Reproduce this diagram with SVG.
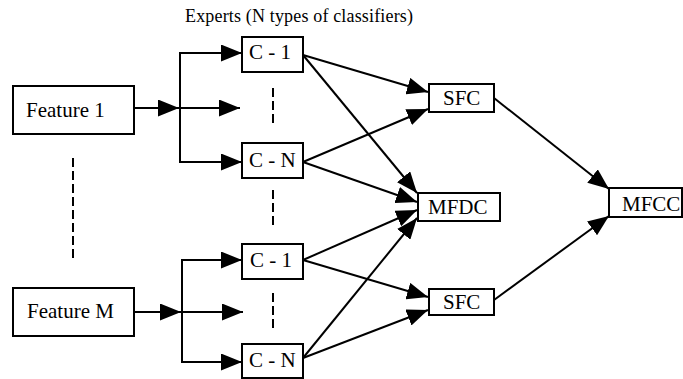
<svg xmlns="http://www.w3.org/2000/svg" width="683" height="379" viewBox="0 0 683 379">
<style>
  .box { fill: #fff; stroke: #000; stroke-width: 2; }
  .lbl { font-family: "Liberation Serif", "Times New Roman", serif; font-size: 21px; fill: #000; }
  .title { font-family: "Liberation Serif", "Times New Roman", serif; font-size: 18px; fill: #000; }
  .edge { stroke: #000; stroke-width: 2; fill: none; }
  .arr { marker-end: url(#ah); }
  .dash { stroke: #000; stroke-width: 2; stroke-dasharray: 9 4; fill: none; }
</style>
<defs>
  <marker id="ah" markerUnits="userSpaceOnUse" markerWidth="21" markerHeight="17" viewBox="0 0 21 17" refX="21" refY="8.5" orient="auto">
    <path d="M0,0 L21,8.5 L0,17 z" fill="#000"/>
  </marker>
</defs>
<rect width="683" height="379" fill="#fff"/>
<text class="title" x="185" y="22" textLength="228">Experts (N types of classifiers)</text>

<g id="connectors">
  <line class="edge arr" x1="134" y1="108" x2="179" y2="108"/>
  <line class="edge" x1="180" y1="53" x2="180" y2="163"/>
  <line class="edge arr" x1="179" y1="53" x2="242" y2="53"/>
  <line class="edge arr" x1="180" y1="108" x2="240" y2="108"/>
  <line class="edge arr" x1="179" y1="162" x2="242" y2="162"/>

  <line class="edge arr" x1="134" y1="312" x2="181" y2="312"/>
  <line class="edge" x1="182" y1="259" x2="182" y2="363"/>
  <line class="edge arr" x1="181" y1="260" x2="242" y2="260"/>
  <line class="edge arr" x1="182" y1="312" x2="243" y2="312"/>
  <line class="edge arr" x1="181" y1="362" x2="242" y2="362"/>

  <line class="edge arr" x1="303" y1="55" x2="428" y2="92"/>
  <line class="edge arr" x1="303" y1="55" x2="417" y2="193"/>
  <line class="edge arr" x1="303" y1="162" x2="428" y2="109"/>
  <line class="edge arr" x1="303" y1="162" x2="417" y2="202"/>
  <line class="edge arr" x1="303" y1="260" x2="417" y2="210"/>
  <line class="edge arr" x1="303" y1="260" x2="428" y2="297"/>
  <line class="edge arr" x1="303" y1="358" x2="417" y2="218"/>
  <line class="edge arr" x1="303" y1="358" x2="428" y2="310"/>
  <line class="edge arr" x1="494" y1="98" x2="609" y2="189"/>
  <line class="edge arr" x1="494" y1="300" x2="609" y2="216"/>

  <line class="dash" x1="273" y1="88" x2="273" y2="123"/>
  <line class="dash" x1="73" y1="158" x2="73" y2="261"/>
  <line class="dash" x1="273" y1="190" x2="273" y2="228"/>
  <line class="dash" x1="273" y1="293" x2="273" y2="328"/>
</g>

<g id="feature1"><rect class="box" x="13" y="86" width="121" height="48"/><text class="lbl" x="26" y="117">Feature 1</text></g>
<g id="featureM"><rect class="box" x="13" y="288" width="121" height="48"/><text class="lbl" x="27" y="318">Feature M</text></g>
<g id="c1a"><rect class="box" x="242" y="37" width="61" height="35"/><text class="lbl" x="249" y="59">C - 1</text></g>
<g id="cna"><rect class="box" x="242" y="143" width="61" height="35"/><text class="lbl" x="249" y="167">C - N</text></g>
<g id="c1b"><rect class="box" x="242" y="244" width="61" height="35"/><text class="lbl" x="250" y="267">C - 1</text></g>
<g id="cnb"><rect class="box" x="242" y="344" width="61" height="34"/><text class="lbl" x="249" y="367">C - N</text></g>
<g id="sfc1"><rect class="box" x="429" y="84" width="65" height="28"/><text class="lbl" x="443" y="105">SFC</text></g>
<g id="sfc2"><rect class="box" x="429" y="289" width="65" height="26"/><text class="lbl" x="443" y="309">SFC</text></g>
<g id="mfdc"><rect class="box" x="418" y="193" width="82" height="28"/><text class="lbl" x="428" y="214">MFDC</text></g>
<g id="mfcc"><rect class="box" x="609" y="188" width="73" height="29"/><text class="lbl" x="622" y="211">MFCC</text></g>
</svg>
